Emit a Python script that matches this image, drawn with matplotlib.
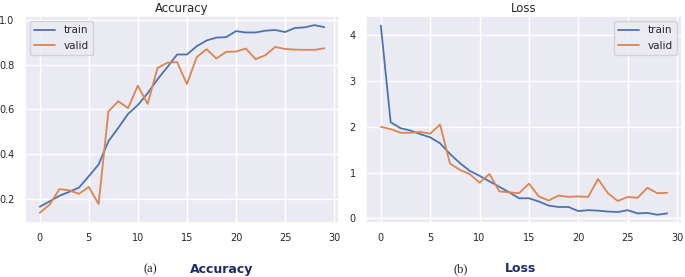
import matplotlib
matplotlib.use('Agg')
import matplotlib.pyplot as plt
import seaborn as sns

sns.set_theme(style='darkgrid')

epochs = list(range(30))

train_acc = [0.163, 0.187, 0.212, 0.230, 0.249, 0.300, 0.353, 0.457, 0.517, 0.580,
             0.620, 0.673, 0.735, 0.790, 0.847, 0.847, 0.884, 0.910, 0.923, 0.925,
             0.952, 0.946, 0.946, 0.954, 0.957, 0.948, 0.966, 0.969, 0.979, 0.970]
valid_acc = [0.136, 0.172, 0.242, 0.237, 0.221, 0.252, 0.175, 0.591, 0.637, 0.606,
             0.707, 0.625, 0.786, 0.810, 0.813, 0.714, 0.835, 0.871, 0.829, 0.859,
             0.860, 0.874, 0.826, 0.844, 0.881, 0.872, 0.869, 0.868, 0.868, 0.875]

train_loss = [4.21, 2.10, 1.97, 1.92, 1.84, 1.77, 1.64, 1.41, 1.21, 1.04,
              0.93, 0.81, 0.69, 0.57, 0.44, 0.44, 0.37, 0.28, 0.25, 0.25,
              0.16, 0.18, 0.17, 0.15, 0.14, 0.18, 0.11, 0.12, 0.08, 0.11]
valid_loss = [2.00, 1.95, 1.87, 1.87, 1.89, 1.85, 2.05, 1.20, 1.06, 0.97,
              0.78, 0.97, 0.59, 0.57, 0.55, 0.76, 0.48, 0.39, 0.50, 0.47,
              0.48, 0.47, 0.86, 0.55, 0.38, 0.47, 0.45, 0.67, 0.55, 0.56]

blue = '#4C72B0'
orange = '#DD8452'

fig = plt.figure(figsize=(6.85, 2.77), dpi=100)
ax1 = fig.add_axes([25/685, 1 - 223/277, 314/685, 207/277])
ax2 = fig.add_axes([366/685, 1 - 223/277, 316/685, 207/277])

#accuracy
ax1.plot(epochs, train_acc, color=blue, lw=1.3, label='train')
ax1.plot(epochs, valid_acc, color=orange, lw=1.3, label='valid')
ax1.set_title('Accuracy', fontsize=8.5, pad=3)
ax1.set_xticks([0, 5, 10, 15, 20, 25, 30])
ax1.set_yticks([0.2, 0.4, 0.6, 0.8, 1.0])
ax1.set_xlim(-1.5, 30.5)
ax1.set_ylim(0.09, 1.02)
ax1.legend(loc='upper left', fontsize=7.5)

#loss
ax2.plot(epochs, train_loss, color=blue, lw=1.3, label='train')
ax2.plot(epochs, valid_loss, color=orange, lw=1.3, label='valid')
ax2.set_title('Loss', fontsize=8.5, pad=3)
ax2.set_xticks([0, 5, 10, 15, 20, 25, 30])
ax2.set_yticks([0, 1, 2, 3, 4])
ax2.set_xlim(-1.5, 30.5)
ax2.set_ylim(-0.1, 4.42)
ax2.legend(loc='upper right', fontsize=7.5)

for ax in (ax1, ax2):
    ax.tick_params(labelsize=7, pad=1.5)

#captions under the panels
fig.text(150/685, 1 - 269/277, '(a)', family='Liberation Serif', fontsize=9,
         ha='center', va='center')
fig.text(222/685, 1 - 269/277, 'Accuracy', fontsize=9, fontweight='bold',
         color='#1f2a6b', ha='center', va='center')
fig.text(461/685, 1 - 269/277, '(b)', family='Liberation Serif', fontsize=9,
         ha='center', va='center')
fig.text(520/685, 1 - 269/277, 'Loss', fontsize=9, fontweight='bold',
         color='#1f2a6b', ha='center', va='center')

plt.savefig('out.png', dpi=100)
